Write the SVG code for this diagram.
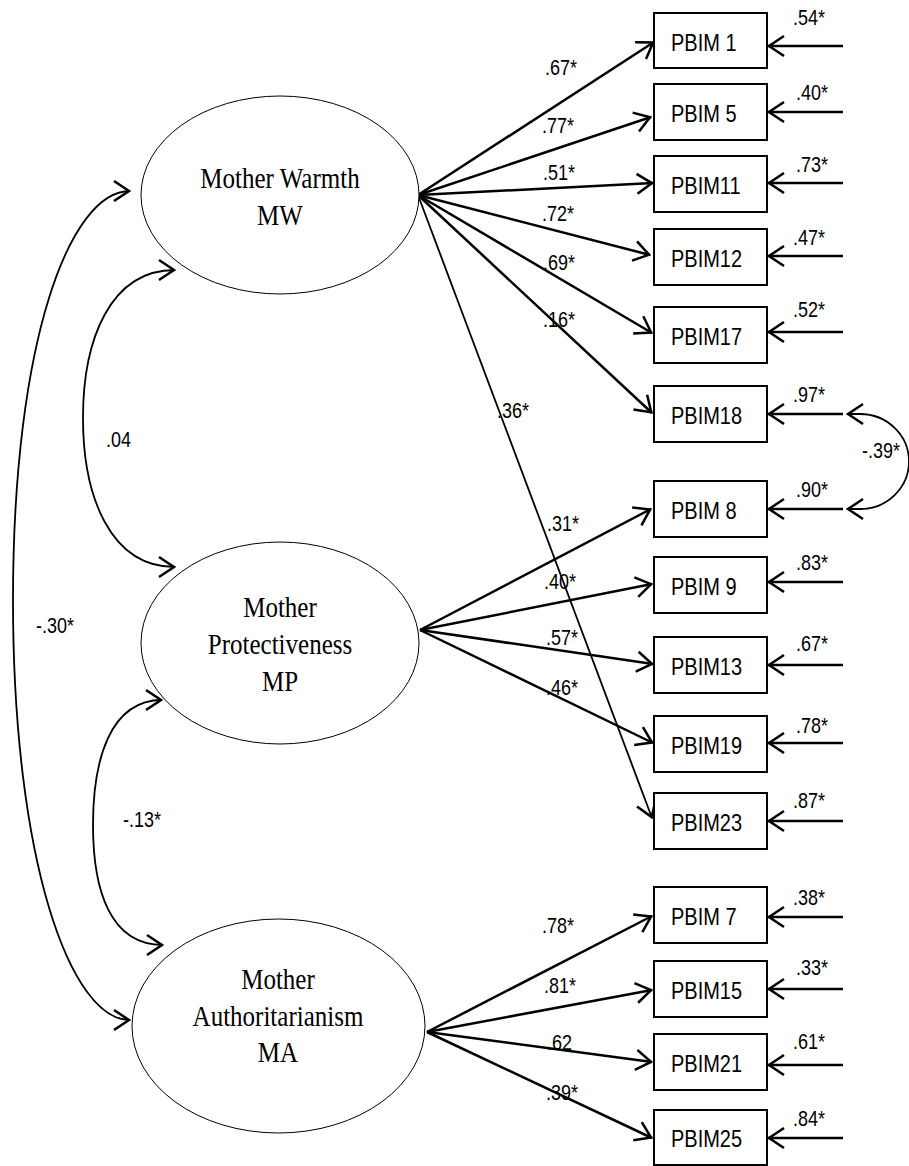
<svg xmlns="http://www.w3.org/2000/svg" width="909" height="1166" viewBox="0 0 909 1166">
  <style>
    .latent { fill: #fff; stroke: #000; stroke-width: 1; }
    .item { fill: #fff; stroke: #000; stroke-width: 2; }
    .latent-txt { font-family: "Liberation Serif", "Times New Roman", serif; font-size: 25px; text-anchor: middle; fill: #000; }
    .item-txt { font-family: "Liberation Sans", Arial, sans-serif; font-size: 20px; fill: #000; }
    .coef { font-family: "Liberation Sans", Arial, sans-serif; font-size: 18px; fill: #000; }
    .load { fill: none; stroke: #000; stroke-width: 2.5; marker-end: url(#head); }
    .load-thin { fill: none; stroke: #000; stroke-width: 1.8; marker-end: url(#head); }
    .err { fill: none; stroke: #000; stroke-width: 2.5; marker-end: url(#head); }
    .cov { fill: none; stroke: #000; stroke-width: 1.8; marker-start: url(#head); marker-end: url(#head); }
  </style>
  <defs>
    <marker id="head" markerUnits="userSpaceOnUse" markerWidth="30" markerHeight="30" viewBox="-20 -15 30 30" refX="1" refY="0" orient="auto-start-reverse" overflow="visible">
      <path d="M -15 -10 L 0 0 L -15 10" fill="none" stroke="#000" stroke-width="2.5"/>
    </marker>
  </defs>

  <rect width="909" height="1166" fill="#fff"/>

  <!-- connectors: factor loadings, error terms, covariances -->
  <g id="connectors">
    <!-- Mother Warmth loadings -->
    <path class="load" d="M 418 195 L 654 42"/>
    <path class="load" d="M 418 195 L 651 117"/>
    <path class="load" d="M 418 195 L 653 183"/>
    <path class="load" d="M 418 195 L 650 255"/>
    <path class="load" d="M 418 195 L 652 333"/>
    <path class="load" d="M 418 195 L 652 413"/>
    <path class="load-thin" d="M 418 195 L 652 818"/>
    <!-- Mother Protectiveness loadings -->
    <path class="load" d="M 420 630 L 651 509"/>
    <path class="load" d="M 420 630 L 652 584"/>
    <path class="load" d="M 420 630 L 653 664"/>
    <path class="load" d="M 420 630 L 653 743"/>
    <!-- Mother Authoritarianism loadings -->
    <path class="load" d="M 427 1032 L 652 916"/>
    <path class="load" d="M 427 1032 L 652 990"/>
    <path class="load" d="M 427 1032 L 652 1062"/>
    <path class="load" d="M 427 1032 L 652 1138"/>

    <!-- error terms -->
    <path class="err" d="M 843 46 L 768 46"/>
    <path class="err" d="M 843 112 L 768 112"/>
    <path class="err" d="M 843 183 L 768 183"/>
    <path class="err" d="M 843 256 L 768 256"/>
    <path class="err" d="M 843 332 L 768 332"/>
    <path class="err" d="M 843 414 L 768 414"/>
    <path class="err" d="M 843 509 L 768 509"/>
    <path class="err" d="M 843 582 L 768 582"/>
    <path class="err" d="M 843 665 L 768 665"/>
    <path class="err" d="M 843 743 L 768 743"/>
    <path class="err" d="M 843 821 L 768 821"/>
    <path class="err" d="M 843 917 L 768 917"/>
    <path class="err" d="M 843 989 L 768 989"/>
    <path class="err" d="M 843 1065 L 768 1065"/>
    <path class="err" d="M 843 1138 L 768 1138"/>

    <!-- correlated errors PBIM18 / PBIM 8 -->
    <path class="cov" d="M 847 414 L 860 414 A 49 47.5 0 0 1 860 509 L 847 509"/>

    <!-- factor covariances -->
    <path class="cov" d="M 130 191 C 70 191, 13 340, 13 600 C 13 860, 70 1020, 130 1020"/>
    <path class="cov" d="M 175 270 C 110 270, 83 340, 83 418 C 83 496, 110 567, 175 567"/>
    <path class="cov" d="M 162 700 C 110 700, 93 760, 93 825 C 93 890, 110 945, 163 945"/>

    <!-- coefficient labels -->
    <text class="coef" transform="translate(545 75) scale(1 1.2)">.67*</text>
    <text class="coef" transform="translate(542 133) scale(1 1.2)">.77*</text>
    <text class="coef" transform="translate(543 180) scale(1 1.2)">.51*</text>
    <text class="coef" transform="translate(542 221) scale(1 1.2)">.72*</text>
    <text class="coef" transform="translate(543 270) scale(1 1.2)">.69*</text>
    <text class="coef" transform="translate(543 327) scale(1 1.2)">.16*</text>
    <text class="coef" transform="translate(497 418) scale(1 1.2)">.36*</text>
    <text class="coef" transform="translate(547 531) scale(1 1.2)">.31*</text>
    <text class="coef" transform="translate(544 589) scale(1 1.2)">.40*</text>
    <text class="coef" transform="translate(546 645) scale(1 1.2)">.57*</text>
    <text class="coef" transform="translate(546 695) scale(1 1.2)">.46*</text>
    <text class="coef" transform="translate(542 933) scale(1 1.2)">.78*</text>
    <text class="coef" transform="translate(544 993) scale(1 1.2)">.81*</text>
    <text class="coef" transform="translate(547 1050) scale(1 1.2)">.62</text>
    <text class="coef" transform="translate(546 1100) scale(1 1.2)">.39*</text>

    <text class="coef" transform="translate(793 25) scale(1 1.2)">.54*</text>
    <text class="coef" transform="translate(796 100) scale(1 1.2)">.40*</text>
    <text class="coef" transform="translate(796 172) scale(1 1.2)">.73*</text>
    <text class="coef" transform="translate(793 245) scale(1 1.2)">.47*</text>
    <text class="coef" transform="translate(793 317) scale(1 1.2)">.52*</text>
    <text class="coef" transform="translate(793 402) scale(1 1.2)">.97*</text>
    <text class="coef" transform="translate(796 497) scale(1 1.2)">.90*</text>
    <text class="coef" transform="translate(796 570) scale(1 1.2)">.83*</text>
    <text class="coef" transform="translate(796 651) scale(1 1.2)">.67*</text>
    <text class="coef" transform="translate(796 733) scale(1 1.2)">.78*</text>
    <text class="coef" transform="translate(793 808) scale(1 1.2)">.87*</text>
    <text class="coef" transform="translate(793 905) scale(1 1.2)">.38*</text>
    <text class="coef" transform="translate(796 975) scale(1 1.2)">.33*</text>
    <text class="coef" transform="translate(793 1049) scale(1 1.2)">.61*</text>
    <text class="coef" transform="translate(793 1126) scale(1 1.2)">.84*</text>

    <text class="coef" transform="translate(862 458) scale(1 1.2)">-.39*</text>
    <text class="coef" transform="translate(106 447) scale(1 1.2)">.04</text>
    <text class="coef" transform="translate(36 633) scale(1 1.2)">-.30*</text>
    <text class="coef" transform="translate(123 827) scale(1 1.2)">-.13*</text>
  </g>

  <!-- latent factors -->
  <g id="MW">
    <ellipse class="latent" cx="280" cy="195" rx="139" ry="99"/>
    <text class="latent-txt" transform="translate(280 188) scale(1 1.2)">Mother Warmth</text>
    <text class="latent-txt" transform="translate(280 225) scale(1 1.2)">MW</text>
  </g>
  <g id="MP">
    <ellipse class="latent" cx="280" cy="643" rx="139" ry="101"/>
    <text class="latent-txt" transform="translate(280 617) scale(1 1.2)">Mother</text>
    <text class="latent-txt" transform="translate(280 654) scale(1 1.2)">Protectiveness</text>
    <text class="latent-txt" transform="translate(280 691) scale(1 1.2)">MP</text>
  </g>
  <g id="MA">
    <ellipse class="latent" cx="278.5" cy="1026" rx="146.5" ry="107"/>
    <text class="latent-txt" transform="translate(278 989) scale(1 1.2)">Mother</text>
    <text class="latent-txt" transform="translate(278 1026) scale(1 1.2)">Authoritarianism</text>
    <text class="latent-txt" transform="translate(278 1062) scale(1 1.2)">MA</text>
  </g>

  <!-- observed items -->
  <g id="PBIM1"><rect class="item" x="654" y="13" width="113" height="55"/><text class="item-txt" transform="translate(671 51) scale(1 1.2)">PBIM 1</text></g>
  <g id="PBIM5"><rect class="item" x="654" y="84" width="113" height="56"/><text class="item-txt" transform="translate(671 122) scale(1 1.2)">PBIM 5</text></g>
  <g id="PBIM11"><rect class="item" x="654" y="156" width="113" height="56"/><text class="item-txt" transform="translate(671 194) scale(1 1.2)">PBIM11</text></g>
  <g id="PBIM12"><rect class="item" x="654" y="229" width="113" height="56"/><text class="item-txt" transform="translate(671 267) scale(1 1.2)">PBIM12</text></g>
  <g id="PBIM17"><rect class="item" x="654" y="307" width="113" height="56"/><text class="item-txt" transform="translate(671 345) scale(1 1.2)">PBIM17</text></g>
  <g id="PBIM18"><rect class="item" x="654" y="386" width="113" height="56"/><text class="item-txt" transform="translate(671 424) scale(1 1.2)">PBIM18</text></g>
  <g id="PBIM8"><rect class="item" x="654" y="481" width="113" height="56"/><text class="item-txt" transform="translate(671 519) scale(1 1.2)">PBIM 8</text></g>
  <g id="PBIM9"><rect class="item" x="654" y="557" width="113" height="56"/><text class="item-txt" transform="translate(671 595) scale(1 1.2)">PBIM 9</text></g>
  <g id="PBIM13"><rect class="item" x="654" y="637" width="113" height="56"/><text class="item-txt" transform="translate(671 675) scale(1 1.2)">PBIM13</text></g>
  <g id="PBIM19"><rect class="item" x="654" y="716" width="113" height="56"/><text class="item-txt" transform="translate(671 754) scale(1 1.2)">PBIM19</text></g>
  <g id="PBIM23"><rect class="item" x="654" y="793" width="113" height="56"/><text class="item-txt" transform="translate(671 831) scale(1 1.2)">PBIM23</text></g>
  <g id="PBIM7"><rect class="item" x="654" y="887" width="113" height="56"/><text class="item-txt" transform="translate(671 925) scale(1 1.2)">PBIM 7</text></g>
  <g id="PBIM15"><rect class="item" x="654" y="961" width="113" height="56"/><text class="item-txt" transform="translate(671 999) scale(1 1.2)">PBIM15</text></g>
  <g id="PBIM21"><rect class="item" x="654" y="1034" width="113" height="56"/><text class="item-txt" transform="translate(671 1072) scale(1 1.2)">PBIM21</text></g>
  <g id="PBIM25"><rect class="item" x="654" y="1110" width="113" height="55"/><text class="item-txt" transform="translate(671 1147) scale(1 1.2)">PBIM25</text></g>
</svg>
